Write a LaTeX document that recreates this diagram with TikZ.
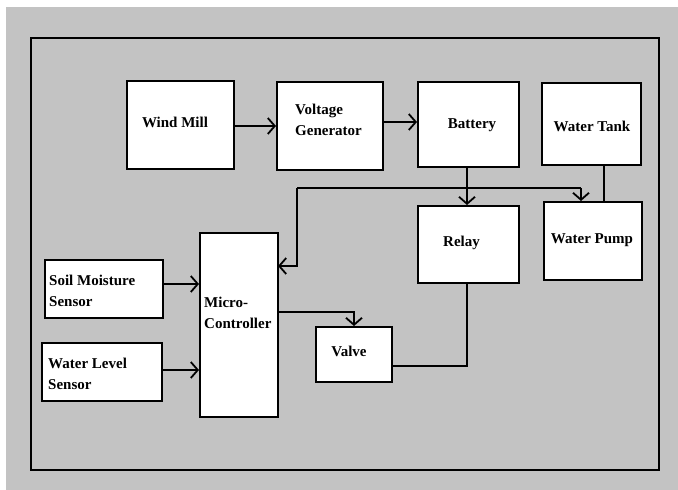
\documentclass[tikz,border=0pt]{standalone}
\usepackage{fontspec}
\setmainfont{Liberation Serif}
\usetikzlibrary{arrows.meta}
\definecolor{bg}{RGB}{195,195,195}
\begin{document}
\begin{tikzpicture}[x=1pt,y=-1pt,
  box/.style={draw=black,fill=white,line width=2pt,inner sep=0pt},
  lbl/.style={font=\fontsize{15}{21}\selectfont\bfseries,inner sep=0pt,align=left},
  wire/.style={line width=2pt},
  arr/.style={line width=2pt,-{Straight Barb[length=7pt,width=16pt,line width=1.8pt]}}]
\useasboundingbox (0,0) rectangle (678,490);
\fill[white] (0,0) rectangle (678,490);
\fill[bg] (6,7) rectangle (678,490);
\draw[line width=2pt] (31,38) rectangle (659,470);
% boxes
\node[box,minimum width=107pt,minimum height=88pt] (wind) at (180,125) {};
\node[box,minimum width=106pt,minimum height=88pt] (vg) at (330,126) {};
\node[box,minimum width=101pt,minimum height=85pt] (bat) at (468.5,124.5) {};
\node[box,minimum width=99pt,minimum height=82pt] (tank) at (591.5,124) {};
\node[box,minimum width=101pt,minimum height=77pt] (relay) at (468.5,244.5) {};
\node[box,minimum width=98pt,minimum height=78pt] (pump) at (593,241) {};
\node[box,minimum width=78pt,minimum height=184pt] (mc) at (239,325) {};
\node[box,minimum width=118pt,minimum height=58pt] (soil) at (103.5,289) {};
\node[box,minimum width=120pt,minimum height=58pt] (level) at (102,372) {};
\node[box,minimum width=76pt,minimum height=55pt] (valve) at (354,354.5) {};
% labels
\node[lbl] (windt) at (175,122) {Wind Mill};
\node[lbl,anchor=west] (vgt) at (295,120) {Voltage\\Generator};
\node[lbl] (batt) at (472,125) {Battery};
\node[lbl] (tankt) at (592,126) {Water Tank};
\node[lbl] (relayt) at (461.5,243) {Relay};
\node[lbl] (pumpt) at (592,240) {Water Pump};
\node[lbl,anchor=west] (mct) at (204,313) {Micro-\\Controller};
\node[lbl,anchor=west] (soilt) at (49,291) {Soil Moisture\\Sensor};
\node[lbl,anchor=west] (levelt) at (48,374) {Water Level\\Sensor};
\node[lbl] (valvet) at (349,351) {Valve};
% junction coordinates
\coordinate (jl) at (297,188);
\coordinate (jr) at (581,188);
\coordinate (mcin) at (278,266);
% connectors
\draw[arr] ([yshift=-1pt]wind.east) -- ([yshift=-1pt]wind.east -| vg.west);
\draw[arr] ([yshift=4pt]vg.east) -- ([yshift=4pt]vg.east -| bat.west);
\draw[arr] ([xshift=-1.5pt]bat.south) -- ([xshift=-1.5pt]relay.north);
\draw[wire] (jl) -- (jr);
\draw[arr] (jr) -- (jr |- pump.north);
\draw[arr] (jl) |- (mcin);
\draw[wire] ([xshift=12.5pt]tank.south) -- ([xshift=12.5pt]tank.south |- pump.north);
\draw[arr] ([yshift=5pt]soil.east) -- ([yshift=5pt]soil.east -| mc.west);
\draw[arr] ([yshift=2pt]level.east) -- ([yshift=2pt]level.east -| mc.west);
\draw[arr] ([yshift=13pt]mc.east) -| (valve.north);
\draw[wire] ([yshift=-11.5pt]valve.east) -| ([xshift=-1.5pt]relay.south);
\end{tikzpicture}
\end{document}
